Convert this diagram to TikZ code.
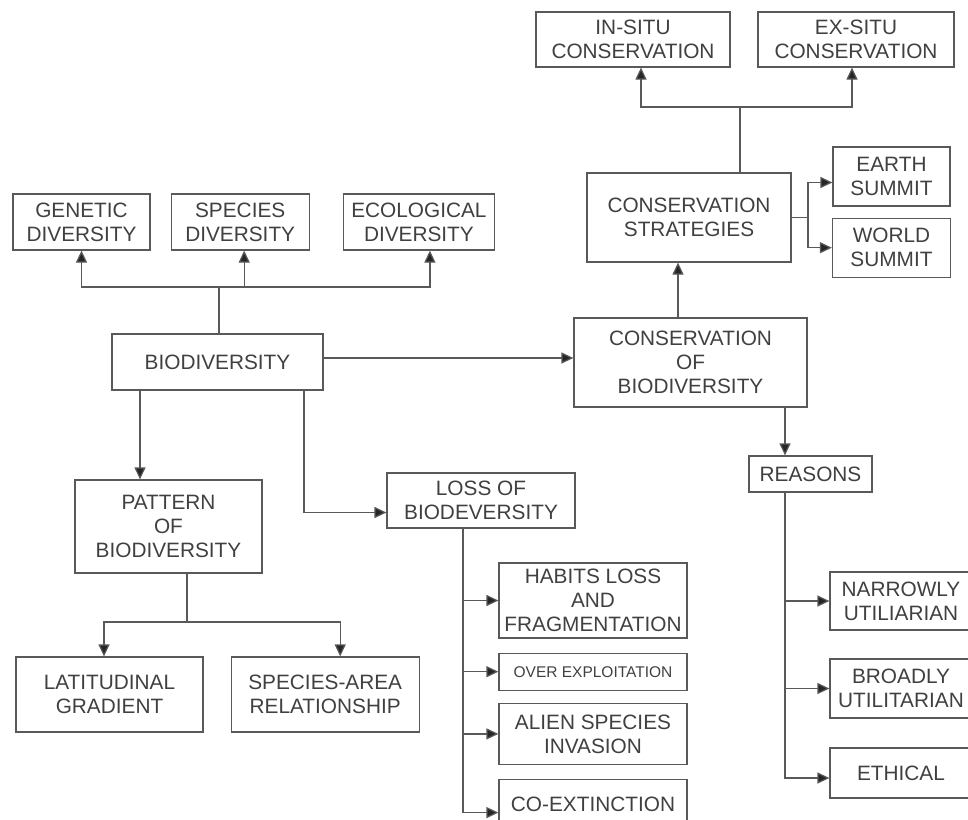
\documentclass[tikz,border=0pt]{standalone}
\usepackage{fontspec}
\newfontfamily\chartfont{Liberation Sans}
\usetikzlibrary{positioning,arrows.meta}

\begin{document}
\begin{tikzpicture}[
    x=1pt, y=-1pt,
    node distance=12pt and 20pt,
    topic/.style={rectangle, draw=black!65, line width=1.2pt, align=center, inner sep=1pt, text=black!75, font=\chartfont\fontsize{20.8}{24}\selectfont},
    small/.style={font=\chartfont\fontsize{15.5}{18}\selectfont},
    link/.style={draw=black!65, line width=1.2pt},
    arrow/.style={link, -{Triangle[length=12pt,width=11pt,fill=black!85]}}
]
\useasboundingbox (0,0) rectangle (968,819);

% Biodiversity and its kinds
\node[topic, minimum width=211pt, minimum height=56pt] (biodiv) at (217.5,362) {BIODIVERSITY};
\node[topic, minimum width=137pt, minimum height=56pt] (genetic) at (81.5,222) {GENETIC\\DIVERSITY};
\node[topic, minimum width=138pt, minimum height=56pt, right=20pt of genetic] (specdiv) {SPECIES\\DIVERSITY};
\node[topic, minimum width=151pt, minimum height=56pt, right=33pt of specdiv] (ecodiv) {ECOLOGICAL\\DIVERSITY};

% Pattern
\node[topic, minimum width=187pt, minimum height=93pt] (pattern) at (168.5,526.5) {PATTERN\\OF\\BIODIVERSITY};
\node[topic, minimum width=187pt, minimum height=75pt] (latit) at (109.5,694.5) {LATITUDINAL\\GRADIENT};
\node[topic, minimum width=188pt, minimum height=75pt, right=27pt of latit] (sparea) {SPECIES-AREA\\RELATIONSHIP};

% Loss
\node[topic, minimum width=188pt, minimum height=55pt] (loss) at (481,500.5) {LOSS OF\\BIODEVERSITY};
\node[topic, minimum width=188pt, minimum height=75pt] (habits) at (593,600.5) {HABITS LOSS\\AND\\FRAGMENTATION};
\node[topic, small, minimum width=188pt, minimum height=37pt, below=14pt of habits] (overexp) {OVER EXPLOITATION};
\node[topic, minimum width=188pt, minimum height=61pt, below=12pt of overexp] (alien) {ALIEN SPECIES\\INVASION};
\node[topic, minimum width=188pt, minimum height=50pt, below=14pt of alien] (coext) {CO-EXTINCTION};

% Conservation
\node[topic, minimum width=233pt, minimum height=89pt] (cob) at (690.5,362.5) {CONSERVATION\\OF\\BIODIVERSITY};
\node[topic, minimum width=204pt, minimum height=89pt] (strat) at (689,217.5) {CONSERVATION\\STRATEGIES};
\node[topic, minimum width=194pt, minimum height=55pt] (insitu) at (633,39.5) {IN-SITU\\CONSERVATION};
\node[topic, minimum width=196pt, minimum height=55pt] (exsitu) at (856,39.5) {EX-SITU\\CONSERVATION};
\node[topic, minimum width=117pt, minimum height=59pt] (earth) at (891.5,176.5) {EARTH\\SUMMIT};
\node[topic, minimum width=118pt, minimum height=59pt, below=11pt of earth] (world) {WORLD\\SUMMIT};

% Reasons
\node[topic, minimum width=123pt, minimum height=36pt] (reasons) at (810.5,474) {REASONS};
\node[topic, minimum width=142pt, minimum height=58pt] (narrow) at (901,601) {NARROWLY\\UTILIARIAN};
\node[topic, minimum width=142pt, minimum height=59pt] (broad) at (901,688.5) {BROADLY\\UTILITARIAN};
\node[topic, minimum width=142pt, minimum height=50pt] (ethical) at (901,773) {ETHICAL};

% Forks
\coordinate (kfork) at (219,287);
\coordinate (pfork) at (187,622);
\coordinate (sfork) at (740,107);
\coordinate (efork) at (808,217.5);

% Arrows - kinds
\draw[link] (biodiv.north -| kfork) -- (kfork);
\draw[arrow] (kfork) -| (genetic.south);
\draw[arrow] (kfork) -| ([xshift=4pt]specdiv.south);
\draw[arrow] (kfork) -| ([xshift=11pt]ecodiv.south);

% Arrows - pattern
\draw[arrow] ([xshift=-77.5pt]biodiv.south) -- ([xshift=-77.5pt]biodiv.south |- pattern.north);
\draw[link] (pattern.south -| pfork) -- (pfork);
\draw[arrow] (pfork) -| ([xshift=-5.5pt]latit.north);
\draw[arrow] (pfork) -| ([xshift=15pt]sparea.north);

% Arrows - loss
\draw[arrow] ([xshift=86.5pt]biodiv.south) |- ([yshift=-12pt]loss.west);
\draw[arrow] ([xshift=-18pt]loss.south) |- (habits.west);
\draw[arrow] ([xshift=-18pt]loss.south) |- (overexp.west);
\draw[arrow] ([xshift=-18pt]loss.south) |- (alien.west);
\draw[arrow] ([xshift=-18pt]loss.south) |- ([yshift=-8pt]coext.west);

% Arrows - conservation
\draw[arrow] ([yshift=4pt]biodiv.east) -- ([yshift=4pt]biodiv.east -| cob.west);
\draw[arrow] ([xshift=-12.5pt]cob.north) -- ([xshift=-12.5pt]cob.north |- strat.south);
\draw[link] (strat.north -| sfork) -- (sfork);
\draw[arrow] (sfork) -| ([xshift=8pt]insitu.south);
\draw[arrow] (sfork) -| ([xshift=-4pt]exsitu.south);
\draw[link] (strat.east) -- (efork);
\draw[arrow] (efork) |- ([yshift=-6pt]earth.west);
\draw[arrow] (efork) |- (world.west);

% Arrows - reasons
\draw[arrow] ([xshift=-25.5pt]reasons.north |- cob.south) -- ([xshift=-25.5pt]reasons.north);
\draw[arrow] ([xshift=-25.5pt]reasons.south) |- (narrow.west);
\draw[arrow] ([xshift=-25.5pt]reasons.south) |- (broad.west);
\draw[arrow] ([xshift=-25.5pt]reasons.south) |- ([yshift=-5pt]ethical.west);

\end{tikzpicture}
\end{document}
